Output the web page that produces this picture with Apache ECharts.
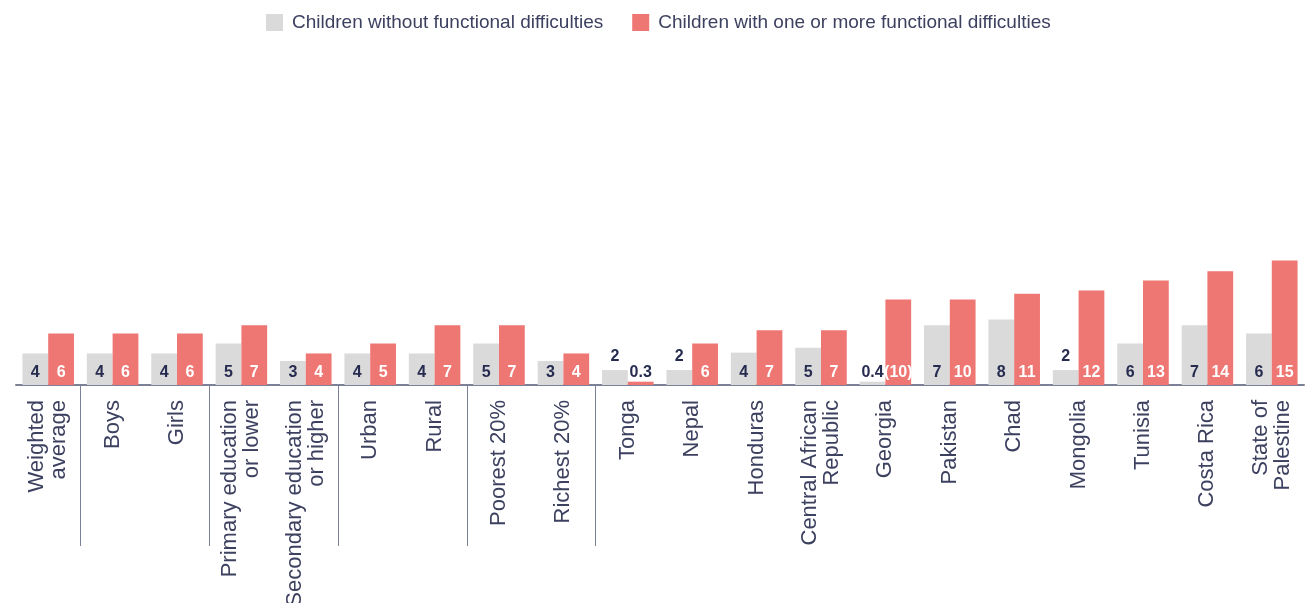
<!DOCTYPE html>
<html>
<head>
<meta charset="utf-8">
<script src="https://cdn.jsdelivr.net/npm/echarts@6/dist/echarts.min.js"></script>
<style>
  html, body { margin: 0; padding: 0; background: #fff; }
  #chart { width: 1306px; height: 603px; }
</style>
</head>
<body>
<div id="chart"></div>
<script>
// categories (groups separated by vertical lines)
const categories = [
  'Weighted\naverage', 'Boys', 'Girls', 'Primary education\nor lower', 'Secondary education\nor higher',
  'Urban', 'Rural', 'Poorest 20%', 'Richest 20%', 'Tonga', 'Nepal', 'Honduras',
  'Central African\nRepublic', 'Georgia', 'Pakistan', 'Chad', 'Mongolia', 'Tunisia', 'Costa Rica',
  'State of\nPalestine'
]
const seriesNames = ['Children without functional difficulties', 'Children with one or more functional difficulties']

// bar heights
const withoutValues = [3.8, 3.8, 3.8, 5.0, 2.9, 3.8, 3.8, 5.0, 2.9, 1.8, 1.8, 3.9, 4.5, 0.4, 7.2, 7.9, 1.8, 5.0, 7.2, 6.2]
const withValues = [6.2, 6.2, 6.2, 7.2, 3.8, 5.0, 7.2, 7.2, 3.8, 0.4, 5.0, 6.6, 6.6, 10.3, 10.3, 11.0, 11.4, 12.6, 13.7, 15.0]

// printed value labels
const withoutLabels = ['4', '4', '4', '5', '3', '4', '4', '5', '3', '2', '2', '4', '5', '0.4', '7', '8', '2', '6', '7', '6']
const withLabels = ['6', '6', '6', '7', '4', '5', '7', '7', '4', '0.3', '6', '7', '7', '(10)', '10', '11', '12', '13', '14', '15']

// group separators sit on these category boundaries (boundary i = left edge of category i)
const separators = [1, 3, 5, 7, 9]
const boundaries = categories.map(function (c, i) { return String(i) }).concat(String(categories.length))

const dark = '#262c50'
const grey = '#dadada'
const red = '#ee7673'
const font = 'Liberation Sans, Arial, sans-serif'

const chart = echarts.init(document.getElementById('chart'))

let greyData = withoutValues.map(function (v, i) {
  let above = v < 2.5 && withoutLabels[i] !== '0.4'
  return {
    value: v,
    label: {
      position: above ? 'top' : 'insideBottom',
      distance: above ? 5 : 4,
      formatter: withoutLabels[i]
    }
  }
})
let redData = withValues.map(function (v, i) {
  return {
    value: v,
    label: {
      color: v < 1 ? dark : '#fff',
      formatter: withLabels[i]
    }
  }
})

let option = {
  animation: false,
  backgroundColor: '#fff',
  legend: {
    top: 8,
    left: 261,
    icon: 'rect',
    itemWidth: 17,
    itemHeight: 17,
    itemGap: 29,
    textStyle: {
      fontFamily: font,
      fontSize: 19,
      color: '#3d4160',
      padding: [0, 0, 0, 4]
    },
    data: seriesNames
  },
  grid: {
    left: 16,
    right: 2,
    top: 53,
    bottom: 218,
    containLabel: false,
    outerBoundsMode: 'none'
  },
  xAxis: [
    {
      type: 'category',
      data: categories,
      axisLine: {
        lineStyle: { color: '#7d8197', width: 2 }
      },
      axisTick: { show: false },
      axisLabel: {
        rotate: 90,
        interval: 0,
        margin: 15,
        fontFamily: font,
        fontSize: 22,
        lineHeight: 22,
        color: '#3d4160'
      }
    },
    {
      // separator lines only
      type: 'category',
      position: 'bottom',
      boundaryGap: false,
      data: boundaries,
      axisLine: { show: false },
      axisLabel: { show: false },
      axisTick: {
        show: true,
        length: 161,
        interval: function (index) {
          return separators.indexOf(index) !== -1
        },
        lineStyle: { color: '#7d8197', width: 1 }
      }
    }
  ],
  yAxis: {
    type: 'value',
    min: 0,
    max: 40,
    show: false,
    splitLine: { show: false }
  },
  series: [
    {
      name: seriesNames[0],
      type: 'bar',
      barWidth: '40%',
      barGap: '0%',
      itemStyle: { color: grey },
      label: {
        show: true,
        position: 'insideBottom',
        fontFamily: font,
        fontSize: 16,
        fontWeight: 'bold',
        color: dark
      },
      data: greyData
    },
    {
      name: seriesNames[1],
      type: 'bar',
      barWidth: '40%',
      barGap: '0%',
      itemStyle: { color: red },
      label: {
        show: true,
        position: 'insideBottom',
        distance: 4,
        fontFamily: font,
        fontSize: 16,
        fontWeight: 'bold',
        color: '#fff'
      },
      data: redData
    }
  ]
}
chart.setOption(option, true)
</script>
</body>
</html>
